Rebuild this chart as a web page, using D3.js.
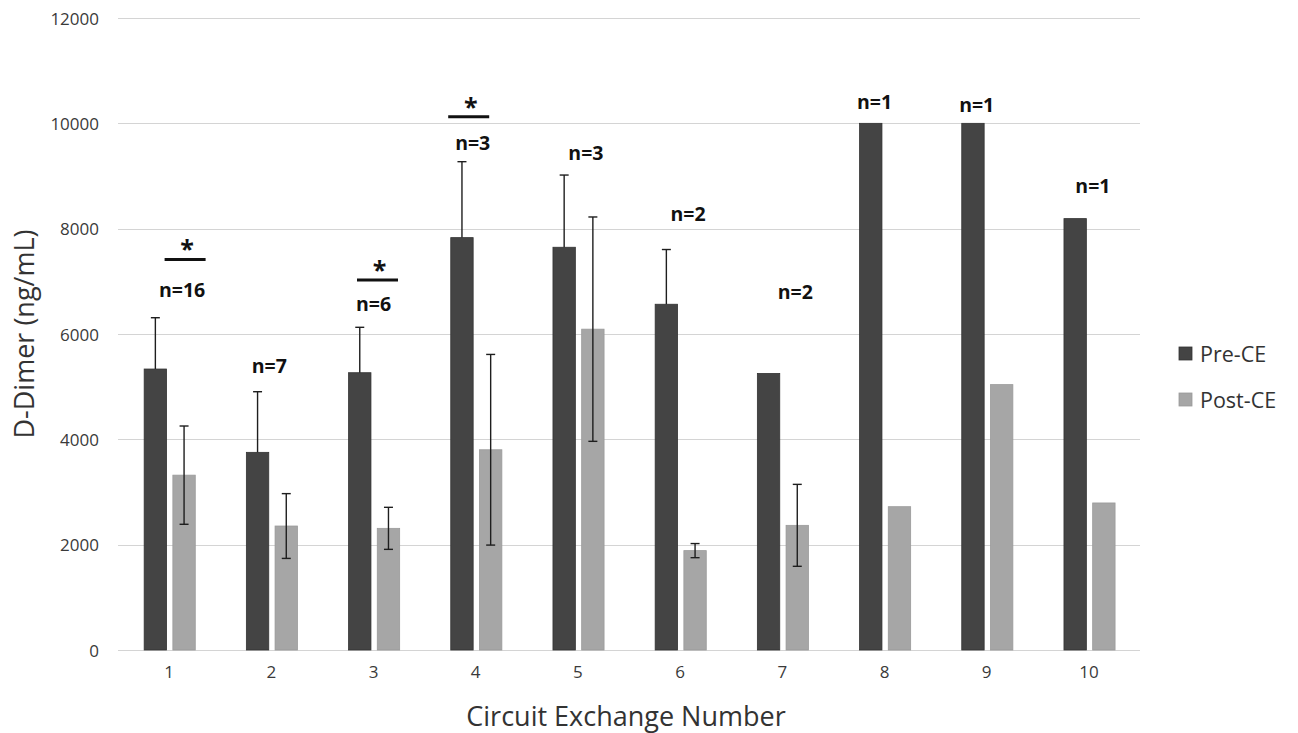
<!DOCTYPE html>
<html>
<head>
<meta charset="utf-8">
<script src="https://cdn.jsdelivr.net/npm/d3@7/dist/d3.min.js"></script>
<style>
  html, body { margin: 0; padding: 0; background: #fff; }
  svg { display: block; font-family: "Open Sans", "DejaVu Sans", sans-serif; }
</style>
</head>
<body>
<svg id="chart" width="1298" height="733"></svg>
<script>
// ---------- data ----------
const categories = ["1","2","3","4","5","6","7","8","9","10"];
const seriesNames = ["Pre-CE","Post-CE"];
const preValues  = [5335, 3753, 5265, 7830, 7647, 6565, 5251, 10000, 10000, 8191];
const postValues = [3320, 2354, 2310, 3802, 6092, 1887, 2367, 2721, 5039, 2792];
const preErrPlus = [974, 1151, 862, 1442, 1371, 1039, null, null, null, null];
const postErr    = [933, 615, 399, 1810, 2130, 134, 778, null, null, null];
const nLabels    = ["n=16","n=7","n=6","n=3","n=3","n=2","n=2","n=1","n=1","n=1"];
const nLabelValue = [6702, 5259, 6436, 9493, 9303, 8145, 6660, 10271, 10214, 8677];
const nLabelShift = [13, -2, 0, -3, 8, 8, 13, -10, -10, 4];
const sigCategories = ["1","3","4"];
const sigValue = [7416, 7025, 10125];
const sigShift = [16, 4, -7];
const yTicks = [0, 2000, 4000, 6000, 8000, 10000, 12000];

// ---------- layout ----------
const svg = d3.select("#chart");
const plot = { left: 118, right: 1140, top: 18, bottom: 650 };
const colors = { "Pre-CE": "#444444", "Post-CE": "#a6a6a6" };
const strokes = { "Pre-CE": "#333333", "Post-CE": "#9a9a9a" };

const x = d3.scaleBand().domain(categories).range([plot.left, plot.right]).paddingInner(0).paddingOuter(0);
const bw = x.bandwidth();
const xs = d3.scaleBand().domain(seriesNames).range([bw * 0.256, bw * 0.756]).paddingInner(0.22);
const y = d3.scaleLinear().domain([0, 12000]).range([plot.bottom, plot.top]);

// gridlines
svg.append("g").selectAll("line").data(yTicks).join("line")
  .attr("x1", plot.left).attr("x2", plot.right)
  .attr("y1", d => Math.round(y(d)) + 0.5).attr("y2", d => Math.round(y(d)) + 0.5)
  .attr("stroke", "#d4d4d4").attr("stroke-width", 1);

// y axis labels
const yAxis = d3.axisLeft(y).tickValues(yTicks).tickSize(0).tickPadding(0).tickFormat(d3.format("d"));
const ya = svg.append("g").attr("transform", `translate(99,0)`).call(yAxis);
ya.select(".domain").remove();
ya.selectAll("text").attr("font-size", 17).attr("fill", "#3a3a3a")
  .attr("font-family", "'Open Sans', sans-serif").attr("dy", "0.36em");

// x axis labels
const xAxis = d3.axisBottom(x).tickSize(0).tickPadding(0);
const xa = svg.append("g").attr("transform", `translate(0,666)`).call(xAxis);
xa.select(".domain").remove();
xa.selectAll("text").attr("font-size", 17).attr("fill", "#3a3a3a")
  .attr("font-family", "'Open Sans', sans-serif").attr("dy", "0.71em");

// bars
const rows = categories.map((c, i) => ({
  c, i,
  vals: [
    { s: "Pre-CE", v: preValues[i], ep: preErrPlus[i], em: null },
    { s: "Post-CE", v: postValues[i], ep: postErr[i], em: postErr[i] }
  ]
}));

const groups = svg.append("g").selectAll("g").data(rows).join("g")
  .attr("transform", d => `translate(${x(d.c)},0)`);

groups.selectAll("rect").data(d => d.vals).join("rect")
  .attr("x", d => xs(d.s)).attr("width", xs.bandwidth())
  .attr("y", d => y(d.v)).attr("height", d => y(0) - y(d.v))
  .attr("fill", d => colors[d.s]).attr("stroke", d => strokes[d.s]).attr("stroke-width", 0.8);

// error bars
const capW = 4.5;
const eb = groups.selectAll("g.err").data(d => d.vals.filter(v => v.ep != null)).join("g").attr("class", "err");
eb.append("line")
  .attr("x1", d => xs(d.s) + xs.bandwidth() / 2).attr("x2", d => xs(d.s) + xs.bandwidth() / 2)
  .attr("y1", d => y(d.v + d.ep)).attr("y2", d => d.em != null ? y(d.v - d.em) : y(d.v))
  .attr("stroke", "#1e1e1e").attr("stroke-width", 1.4);
eb.append("line")
  .attr("x1", d => xs(d.s) + xs.bandwidth() / 2 - capW).attr("x2", d => xs(d.s) + xs.bandwidth() / 2 + capW)
  .attr("y1", d => y(d.v + d.ep)).attr("y2", d => y(d.v + d.ep))
  .attr("stroke", "#1e1e1e").attr("stroke-width", 1.4);
eb.filter(d => d.em != null).append("line")
  .attr("x1", d => xs(d.s) + xs.bandwidth() / 2 - capW).attr("x2", d => xs(d.s) + xs.bandwidth() / 2 + capW)
  .attr("y1", d => y(d.v - d.em)).attr("y2", d => y(d.v - d.em))
  .attr("stroke", "#1e1e1e").attr("stroke-width", 1.4);

// n labels
svg.append("g").selectAll("text").data(categories).join("text")
  .attr("x", (c, i) => x(c) + bw / 2 + nLabelShift[i])
  .attr("y", (c, i) => y(nLabelValue[i]))
  .attr("text-anchor", "middle").attr("font-size", 19.5).attr("font-weight", "bold")
  .attr("fill", "#111").text((c, i) => nLabels[i]);

// significance markers
const sig = svg.append("g").selectAll("g").data(sigCategories).join("g");
sig.append("line")
  .attr("x1", (c, i) => x(c) + bw / 2 + sigShift[i] - 20.5)
  .attr("x2", (c, i) => x(c) + bw / 2 + sigShift[i] + 20.5)
  .attr("y1", (c, i) => y(sigValue[i])).attr("y2", (c, i) => y(sigValue[i]))
  .attr("stroke", "#111").attr("stroke-width", 3);
sig.append("text")
  .attr("x", (c, i) => x(c) + bw / 2 + sigShift[i] + 2)
  .attr("y", (c, i) => y(sigValue[i]) - 1)
  .attr("text-anchor", "middle").attr("font-size", 25).attr("font-weight", "bold")
  .attr("fill", "#111").text("*");

// axis titles
svg.append("text").attr("x", 626).attr("y", 726)
  .attr("text-anchor", "middle").attr("font-size", 27).attr("fill", "#333")
  .text("Circuit Exchange Number");
svg.append("text").attr("transform", "translate(34,334) rotate(-90)")
  .attr("text-anchor", "middle").attr("font-size", 27).attr("fill", "#333")
  .text("D-Dimer (ng/mL)");

// legend
const lg = svg.append("g").selectAll("g").data(seriesNames).join("g")
  .attr("transform", (d, i) => `translate(1179,${347 + i * 46})`);
lg.append("rect").attr("width", 13).attr("height", 13)
  .attr("fill", d => colors[d]).attr("stroke", d => strokes[d]).attr("stroke-width", 0.8);
lg.append("text").attr("x", 21).attr("y", 15).attr("font-size", 21.5).attr("fill", "#333").text(d => d);
</script>
</body>
</html>
